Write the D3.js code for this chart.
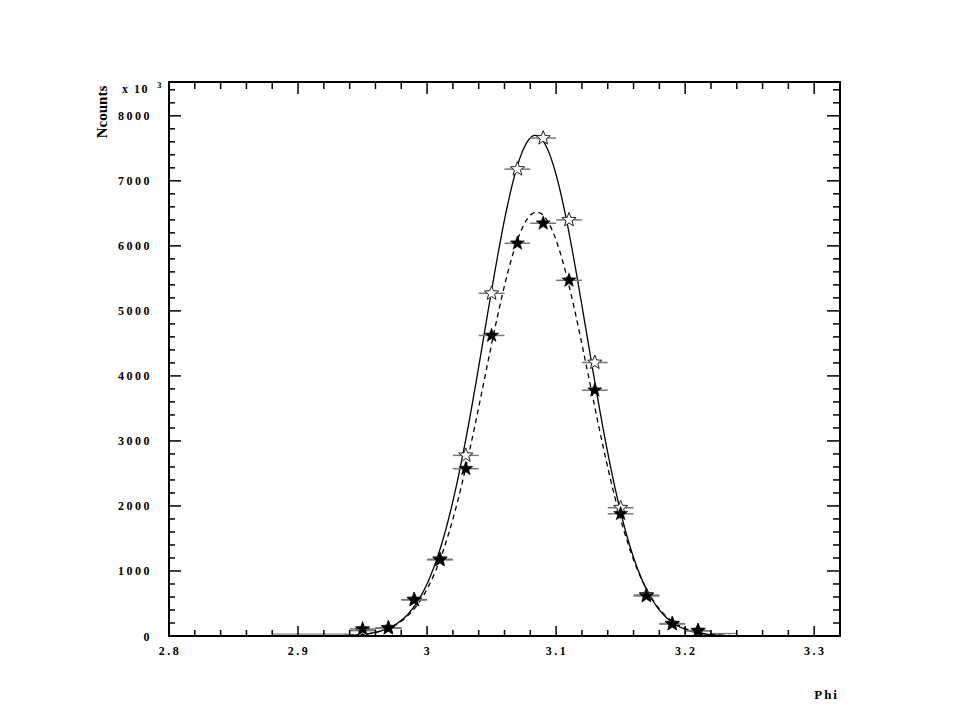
<!DOCTYPE html>
<html>
<head>
<meta charset="utf-8">
<script src="https://cdn.jsdelivr.net/npm/d3@7"></script>
<style>
  body { margin: 0; background: #fff; }
  svg { display: block; }
  text { font-family: "Liberation Serif", "Times New Roman", serif; font-weight: bold; fill: #000; }
</style>
</head>
<body>
<script>
// ---- data ----
const binCenters = [2.95, 2.97, 2.99, 3.01, 3.03, 3.05, 3.07, 3.09, 3.11, 3.13, 3.15, 3.17, 3.19, 3.21];
const openCounts = [85, 125, 560, 1180, 2778, 5270, 7180, 7658, 6400, 4206, 1972, 630, 190, 80];
const filledCounts = [108, 123, 555, 1170, 2573, 4622, 6040, 6348, 5470, 3780, 1880, 616, 185, 82];
const binHalfWidth = 0.01;
// low-level tail boxes: [low edge, high edge, counts]
const tailLo = [2.88, 2.94, 2.96, 3.20, 3.22];
const tailHi = [2.94, 2.96, 2.98, 3.22, 3.24];
const tailVals = [30, 82, 114, 82, 40];
// Gaussian fit parameters: [open/solid, filled/dashed]
const fitAmp = [7700, 6520];
const fitMean = [3.084, 3.085];
const fitSigma = [0.0395, 0.0405];
const fitDash = [null, "5,4"];
const xTicks = [2.8, 2.9, 3.0, 3.1, 3.2, 3.3];
const xTickLabels = ["2.8", "2.9", "3", "3.1", "3.2", "3.3"];
const yTicks = [0, 1000, 2000, 3000, 4000, 5000, 6000, 7000, 8000];
const yTickLabels = ["0", "1000", "2000", "3000", "4000", "5000", "6000", "7000", "8000"];
const xDomain = [2.8, 3.32];
const yDomain = [0, 8520];

(function () {
// ---- layout ----
const W = 960, H = 720;
const pL = 169, pR = 840, pT = 82, pB = 636;

const svg = d3.select("body").append("svg").attr("width", W).attr("height", H);

const x = d3.scaleLinear().domain(xDomain).range([pL, pR]);
const y = d3.scaleLinear().domain(yDomain).range([pB, pT]);

svg.append("clipPath").attr("id", "clip")
  .append("rect").attr("x", pL).attr("y", pT).attr("width", pR - pL).attr("height", pB - pT);

const plot = svg.append("g").attr("clip-path", "url(#clip)");

// tail boxes
plot.selectAll("rect.tail").data(tailVals).join("rect")
  .attr("class", "tail")
  .attr("x", (d, i) => x(tailLo[i]))
  .attr("width", (d, i) => x(tailHi[i]) - x(tailLo[i]))
  .attr("y", d => y(d))
  .attr("height", d => y(0) - y(d))
  .attr("fill", "none").attr("stroke", "#666").attr("stroke-width", 1);

// fit curves
const xs = d3.range(xDomain[0], xDomain[1] + 1e-9, 0.001);
fitAmp.forEach((A, k) => {
  const line = d3.line()
    .x(v => x(v))
    .y(v => y(A * Math.exp(-Math.pow(v - fitMean[k], 2) / (2 * fitSigma[k] * fitSigma[k]))));
  plot.append("path").datum(xs)
    .attr("d", line)
    .attr("fill", "none").attr("stroke", "#000").attr("stroke-width", 1.3)
    .attr("stroke-dasharray", fitDash[k]);
});

// error bars
[openCounts, filledCounts].forEach(series => {
  plot.append("g").selectAll("line").data(series).join("line")
    .attr("x1", (d, i) => x(binCenters[i] - binHalfWidth))
    .attr("x2", (d, i) => x(binCenters[i] + binHalfWidth))
    .attr("y1", d => y(d)).attr("y2", d => y(d))
    .attr("stroke", "#777").attr("stroke-width", 1.5);
});

// star markers
function starPath(R) {
  const r = R * 0.42;
  const pts = [];
  for (let i = 0; i < 10; i++) {
    const a = -Math.PI / 2 + i * Math.PI / 5;
    const rr = i % 2 === 0 ? R : r;
    pts.push([rr * Math.cos(a), rr * Math.sin(a)]);
  }
  return "M" + pts.map(p => p[0].toFixed(2) + "," + p[1].toFixed(2)).join("L") + "Z";
}
const star = starPath(7.5);

plot.append("g").selectAll("path").data(openCounts).join("path")
  .attr("d", star)
  .attr("transform", (d, i) => `translate(${x(binCenters[i])},${y(d)})`)
  .attr("fill", "#fff").attr("stroke", "#222").attr("stroke-width", 1);

plot.append("g").selectAll("path").data(filledCounts).join("path")
  .attr("d", star)
  .attr("transform", (d, i) => `translate(${x(binCenters[i])},${y(d)})`)
  .attr("fill", "#000").attr("stroke", "#000").attr("stroke-width", 0.5);

// axes with ticks on all four sides
const xMinor = d3.range(0, 27).map(i => +(2.8 + i * 0.02).toFixed(2));
const yMinor = d3.range(0, 8501, 200);
const isMajorX = v => Math.abs(v * 10 - Math.round(v * 10)) < 1e-6;
const isMajorY = v => v % 1000 === 0;

const axes = svg.append("g").attr("stroke", "#000");
xMinor.forEach(v => {
  const len = isMajorX(v) ? 10 : 6;
  axes.append("line").attr("x1", x(v)).attr("x2", x(v)).attr("y1", pB).attr("y2", pB - len).attr("stroke-width", 1.5);
  axes.append("line").attr("x1", x(v)).attr("x2", x(v)).attr("y1", pT).attr("y2", pT + (isMajorX(v) ? 12 : 7)).attr("stroke-width", 1.5);
});
yMinor.forEach(v => {
  const len = isMajorY(v) ? 12 : 6;
  axes.append("line").attr("x1", pL).attr("x2", pL + len).attr("y1", y(v)).attr("y2", y(v)).attr("stroke-width", 1.5);
  axes.append("line").attr("x1", pR).attr("x2", pR - (isMajorY(v) ? 13 : 7)).attr("y1", y(v)).attr("y2", y(v)).attr("stroke-width", 1.5);
});
axes.append("rect").attr("x", pL).attr("y", pT).attr("width", pR - pL).attr("height", pB - pT)
  .attr("fill", "none").attr("stroke-width", 2);

// tick labels
svg.append("g").selectAll("text").data(xTicks).join("text")
  .attr("x", d => x(d) + 1).attr("y", 655)
  .attr("text-anchor", "middle")
  .style("font-size", "12px").style("letter-spacing", "2.5px")
  .text((d, i) => xTickLabels[i]);

svg.append("g").selectAll("text").data(yTicks).join("text")
  .attr("x", 152).attr("y", d => y(d) + 4.5)
  .attr("text-anchor", "end")
  .style("font-size", "12px").style("letter-spacing", "2.5px")
  .text((d, i) => yTickLabels[i]);

// exponent label
svg.append("text").attr("x", 122).attr("y", 93).style("font-size", "12px").style("letter-spacing", "1.5px").text("x 10");
svg.append("text").attr("x", 157).attr("y", 88).style("font-size", "9px").text("3");

// axis titles
svg.append("text").attr("transform", "translate(107,112) rotate(-90)")
  .attr("text-anchor", "middle").style("font-size", "15px").text("Ncounts");
svg.append("text").attr("x", 839).attr("y", 699).attr("text-anchor", "end")
  .style("font-size", "13px").style("letter-spacing", "2px").text("Phi");
})();
</script>
</body>
</html>
